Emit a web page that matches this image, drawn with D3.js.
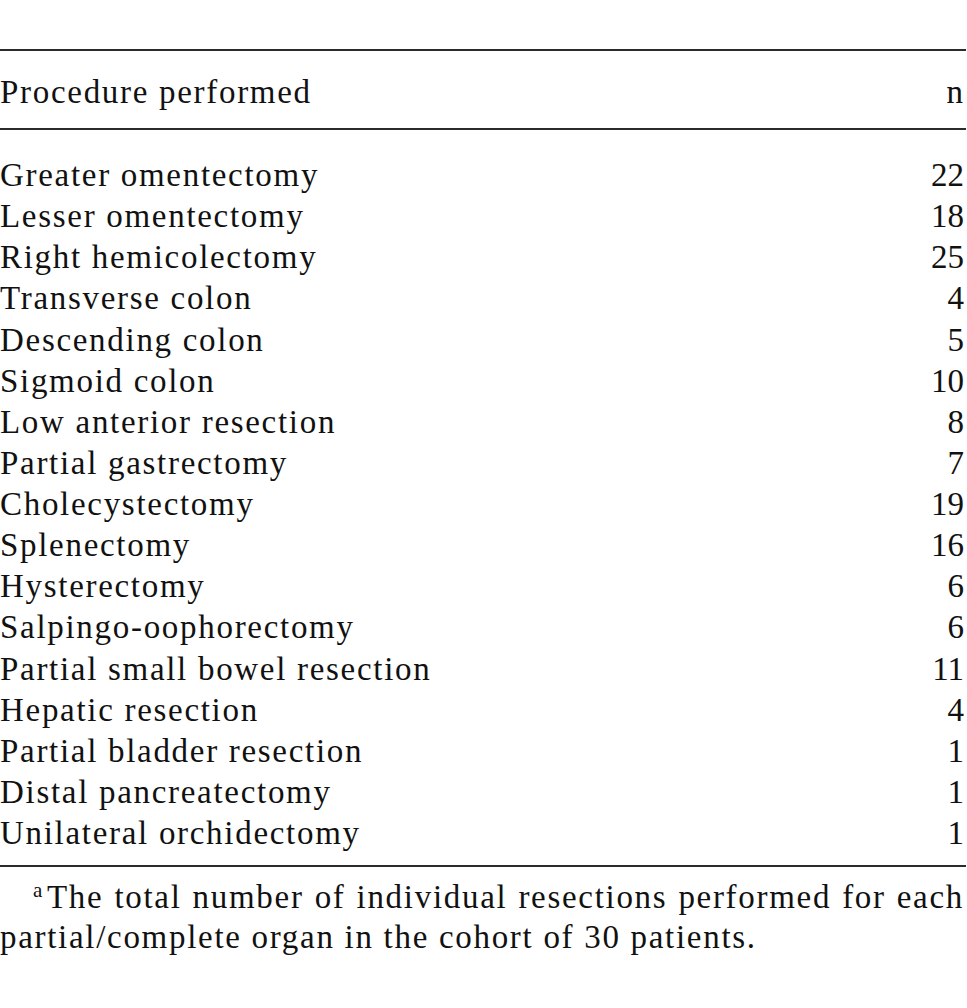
<!DOCTYPE html>
<html><head><meta charset="utf-8">
<script src="https://cdn.jsdelivr.net/npm/d3@7"></script>
<style>html,body{margin:0;padding:0;background:#fff;}svg{display:block;}</style>
</head><body>
<svg id="chart" width="967" height="1008"></svg>
<script>
const headers = ["Procedure performed", "n"];
const procedures = ["Greater omentectomy","Lesser omentectomy","Right hemicolectomy","Transverse colon","Descending colon","Sigmoid colon","Low anterior resection","Partial gastrectomy","Cholecystectomy","Splenectomy","Hysterectomy","Salpingo-oophorectomy","Partial small bowel resection","Hepatic resection","Partial bladder resection","Distal pancreatectomy","Unilateral orchidectomy"];
const counts = [22,18,25,4,5,10,8,7,19,16,6,6,11,4,1,1,1];
const footnoteLines = ["The total number of individual resections performed for each", "partial/complete organ in the cohort of 30 patients."];
const footnoteMark = "a";

const svg = d3.select("#chart");
const font = "'Liberation Serif', 'Times New Roman', serif";
const fs = 33;
const ls = 1.7;
const color = "#111";
const left = 0, right = 964;

const y = d3.scalePoint().domain(d3.range(procedures.length)).range([186, 844]);

function rule(yy){ svg.append("line").attr("x1",0).attr("x2",966).attr("y1",yy).attr("y2",yy).attr("stroke","#2b2b2b").attr("stroke-width",2.2); }
rule(50); rule(129); rule(866);

svg.append("text").attr("x",left).attr("y",103).attr("font-family",font).attr("font-size",fs).attr("letter-spacing",ls).attr("fill",color).text(headers[0]);
svg.append("text").attr("x",right-1).attr("y",103).attr("text-anchor","end").attr("font-family",font).attr("font-size",fs).attr("fill",color).text(headers[1]);

const rows = svg.append("g").selectAll("g").data(procedures).join("g").attr("transform",(d,i)=>`translate(0,${y(i)})`);
rows.append("text").attr("x",left).attr("font-family",font).attr("font-size",fs).attr("letter-spacing",ls).attr("fill",color).text(d=>d);
rows.append("text").attr("x",right).attr("text-anchor","end").attr("font-family",font).attr("font-size",fs).attr("fill",color).text((d,i)=>counts[i]);

// footnote
svg.append("text").attr("x",33).attr("y",897).attr("font-family",font).attr("font-size",21).attr("fill",color).text(footnoteMark);
function justify(line, x0, x1, yy){
  const words = line.split(" ");
  const g = svg.append("g");
  const ts = words.map(w=>g.append("text").attr("y",yy).attr("font-family",font).attr("font-size",fs).attr("letter-spacing",ls).attr("fill",color).text(w));
  const widths = ts.map(t=>t.node().getComputedTextLength());
  const gap = (x1-x0-d3.sum(widths))/(words.length-1);
  let x = x0;
  ts.forEach((t,i)=>{ t.attr("x",x); x += widths[i]+gap; });
}
justify(footnoteLines[0], 47, 964, 908);
svg.append("text").attr("x",0).attr("y",948).attr("font-family",font).attr("font-size",fs).attr("letter-spacing",ls).attr("fill",color).text(footnoteLines[1]);
</script>
</body></html>
